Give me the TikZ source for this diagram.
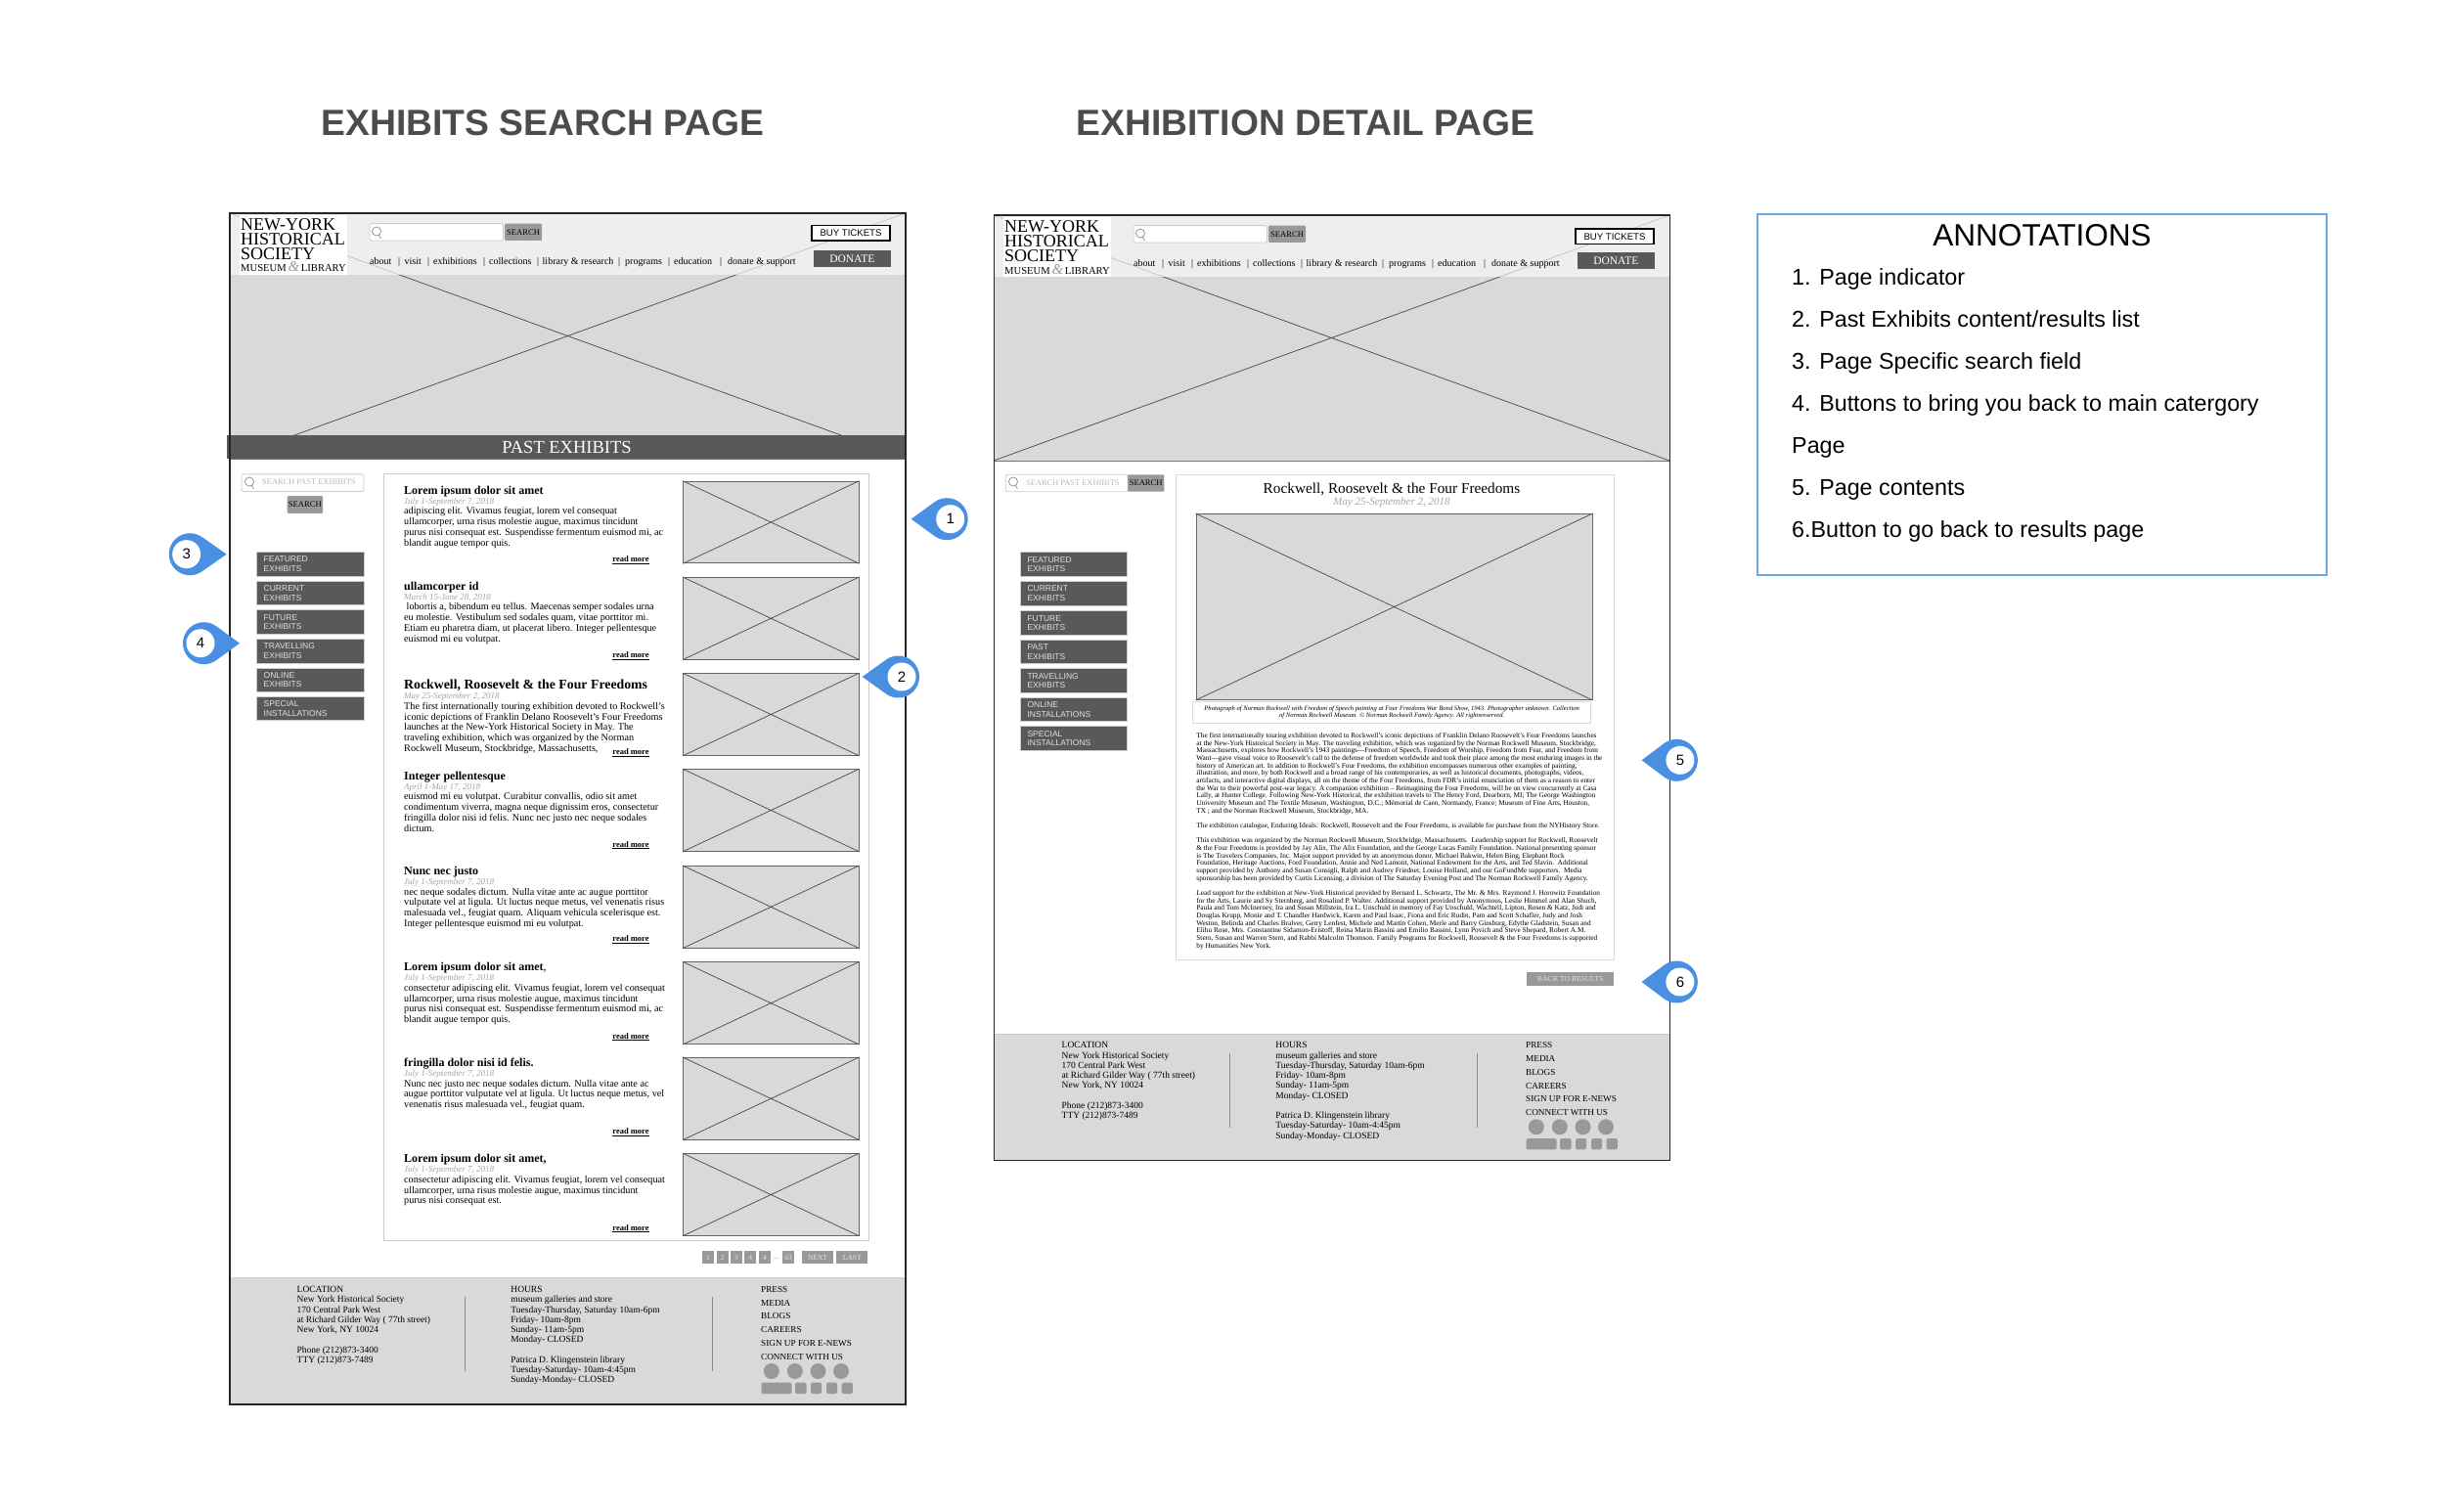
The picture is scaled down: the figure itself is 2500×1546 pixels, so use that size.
\documentclass[tikz,border=0pt]{standalone}
\usepackage{fontspec}
\usepackage{xcolor}
\setmainfont{Liberation Serif}
\setsansfont{Liberation Sans}
\definecolor{darkbtn}{HTML}{595959}
\definecolor{midbtn}{HTML}{999999}
\definecolor{hero}{HTML}{D9D9D9}
\definecolor{pinblue}{HTML}{4A90E2}
\definecolor{edge}{HTML}{CCCCCC}
\newcommand{\fsize}[2]{\fontsize{#1}{#2}\selectfont}
\tikzset{
  pagetitle/.style={font=\sffamily\bfseries\fsize{37.3}{40},text=black!70},
  logotext/.style={anchor=north west,inner sep=0pt,align=left,font=\fsize{18}{15}},
  navtext/.style={anchor=west,inner sep=0pt,text height=7pt,text depth=2pt,font=\fsize{10}{10}},
  field/.style={draw=edge,fill=white,rounded corners=1.5pt,line width=0.8pt},
  hint/.style={anchor=west,inner sep=0pt,text=black!28,font=\fsize{8.4}{9}},
  greybtn/.style={fill=midbtn,rounded corners=1pt,inner sep=0pt,font=\fsize{8.6}{9}},
  sidebtn/.style={fill=darkbtn,draw=edge,line width=0.7pt,minimum width=109.6pt,minimum height=24.5pt,
    inner sep=0pt,text width=95pt,align=left,text=black!12,font=\sffamily\fsize{8.5}{9.6}},
  item/.style={anchor=north west,inner sep=0pt,align=left,font=\fsize{10.2}{10.9}},
  itemhead/.style={anchor=base west,inner sep=0pt,font=\bfseries\fsize{12}{12}},
  itemdate/.style={anchor=base west,inner sep=0pt,text=black!35,font=\itshape\fsize{9}{9}},
  readmore/.style={anchor=center,inner sep=0pt,font=\bfseries\fsize{8.5}{9}},
  thumb/.style={fill=hero,draw=black!60,line width=0.9pt,minimum width=179.4pt,minimum height=83.6pt},
  xline/.style={draw=black!72,line width=0.7pt},
  pagebtn/.style={fill=midbtn,inner sep=0pt,text=black!10,minimum height=13pt,font=\fsize{7.5}{8}},
  foottext/.style={anchor=north west,inner sep=0pt,align=left,font=\fsize{9.5}{10.25}},
  footlink/.style={anchor=north west,inner sep=0pt,align=left,font=\fsize{9.2}{13.8}},
  pageframe/.style={draw=black!85,line width=1.5pt},
  pinlabel/.style={circle,fill=white,inner sep=0pt,minimum size=29pt,font=\sffamily\fsize{15}{15}},
  annot/.style={anchor=base west,inner sep=0pt,font=\sffamily\fsize{23.3}{24}},
  searchlens/.pic={\draw[draw=black!45,line width=0.7pt] (0,0) circle (4.5pt) (2.5,4) -- (4.5,7.5);}
}
\begin{document}
\begin{tikzpicture}[x=1pt,y=-1pt]
\useasboundingbox (0,0) rectangle (2500,1546);

\node[pagetitle] (title1) at (555,125.5) {EXHIBITS SEARCH PAGE};
\node[pagetitle] (title2) at (1335,125.5) {EXHIBITION DETAIL PAGE};

% header of both pages
\foreach \p/\dx/\dy/\by in {a/0/0/0,b/781/2/1.7} {
\begin{scope}[shift={(\dx,\dy)}]
\fill[hero] (235,218) rectangle (926,469);
\draw[draw=black!55,line width=0.7pt] (235,469) -- (926,469);
\draw[xline] (235,218) -- (926,469) (926,218) -- (235,469);
\fill[fill=black!3,opacity=0.7] (235,218) rectangle (926,281);
\fill[white] (244.5,220) rectangle (354.5,281.5);
\node[logotext] (\p logo) at (246,223.5) {NEW-YORK\\HISTORICAL\\SOCIETY};
\node[anchor=base west,inner sep=0pt,font=\fsize{10.6}{11}] (\p museum) at (246,278) {MUSEUM\,{\color{black!40}\itshape\fsize{15}{15}\&}\,LIBRARY};
\node[field,minimum width=136.5pt,minimum height=17.3pt,inner sep=0pt] (\p search) at (446.2,237.3) {};
\pic at (385,236.5) {searchlens};
\node[greybtn,minimum width=38pt,minimum height=17.3pt] (\p go) at (535,237.3) {SEARCH};
\foreach \x/\w in {378/about,407/|,413.5/visit,437/|,443/exhibitions,494/|,500/collections,549/|,554.5/library \& research,632/|,639/programs,683/|,689/education,736/|,744/donate \& support} {
  \node[navtext] at (\x,267.8) {\w};
}
\node[draw=black,fill=white,line width=1.2pt,minimum width=80pt,minimum height=15.8pt,inner sep=0pt,font=\sffamily\fsize{9.6}{10},yshift=-\by pt] (\p buy) at (870,238.2) {BUY TICKETS};
\node[fill=darkbtn,minimum width=79.5pt,minimum height=17.4pt,inner sep=0pt,text=white,font=\fsize{11.5}{12}] (\p donate) at (871.3,264.4) {DONATE};
\end{scope}
}

% footer of both pages
\foreach \p/\dx/\dy in {a/0/2,b/782/-247.7} {
\begin{scope}[shift={(\dx,\dy)}]
\fill[hero] (235,1304.7) rectangle (926,1434);
\draw[draw=edge,line width=0.8pt] (235,1304.7) -- (926,1304.7);
\node[foottext] (\p loc) at (303.5,1313) {LOCATION\\New York Historical Society\\170 Central Park West\\at Richard Gilder Way ( 77th street)\\New York, NY 10024\\[10.25pt]Phone (212)873-3400\\TTY (212)873-7489};
\node[foottext] (\p hours) at (522.2,1313) {HOURS\\museum galleries and store\\Tuesday-Thursday, Saturday 10am-6pm\\Friday- 10am-8pm\\Sunday- 11am-5pm\\Monday- CLOSED\\[10.25pt]Patrica D. Klingenstein library\\Tuesday-Saturday- 10am-4:45pm\\Sunday-Monday- CLOSED};
\node[footlink] (\p links) at (778,1313) {PRESS\\MEDIA\\BLOGS\\CAREERS\\SIGN UP FOR E-NEWS\\CONNECT WITH US};
\draw[draw=black!45,line width=0.8pt] (475,1324.3) -- (475,1400.3) (728,1324.3) -- (728,1400.3);
\foreach \x in {788.8,812.8,836.5,860} {
  \fill[midbtn] (\x,1400) circle (8pt);
}
\foreach \a/\b in {778.5/809.7,813/824.5,829/840,845/856,860.6/871.8} {
  \fill[midbtn,rounded corners=1.5pt] (\a,1411.7) rectangle (\b,1423);
}
\end{scope}
}

% exhibits search page
\node[fill=darkbtn,minimum width=695pt,minimum height=24pt,inner sep=0pt,text=white,font=\fsize{18.5}{19}] (band) at (579.5,457) {PAST EXHIBITS};
\begin{scope}[yshift=-1.5pt]
\node[field,minimum width=125pt,minimum height=17.7pt,inner sep=0pt] (fieldone) at (309.5,492.2) {};
\pic at (255,491) {searchlens};
\node[hint] (hintone) at (268,491) {SEARCH PAST EXHIBITS};
\node[greybtn,minimum width=36.5pt,minimum height=17.6pt] (goone) at (311.9,514.5) {SEARCH};
\foreach \i/\y/\a/\b in {1/575.3/FEATURED/EXHIBITS,2/604.8/CURRENT/EXHIBITS,3/634.5/FUTURE/EXHIBITS,4/664.2/TRAVELLING/EXHIBITS,5/693.7/ONLINE/EXHIBITS,6/723/SPECIAL/INSTALLATIONS} {
  \node[sidebtn] (side\i) at (317.2,\y) {\a\\\b};
}
\node[draw=edge,fill=white,line width=0.9pt,minimum width=495.7pt,minimum height=783.4pt,inner sep=0pt] (panel) at (640.2,875) {};
\foreach \i/\y in {1/532.5,2/630.8,3/729,4/827,5/925.8,6/1024.2,7/1121.8,8/1220} {
  \node[thumb] (thumb\i) at (788.3,\y) {};
  \draw[xline] (thumb\i.north west) -- (thumb\i.south east) (thumb\i.north east) -- (thumb\i.south west);
}

\node[itemhead] (head1) at (413,504) {Lorem ipsum dolor sit amet};
\node[itemdate] (date1) at (413,513.7) {July 1-September 7, 2018};
\node[item] (body1) at (413,517) {adipiscing elit. Vivamus feugiat, lorem vel consequat\\ullamcorper, urna risus molestie augue, maximus tincidunt\\purus nisi consequat est. Suspendisse fermentum euismod mi, ac\\blandit augue tempor quis.};
\node[readmore] (more1) at (645,571.3) {\underline{read more}};

\node[itemhead] (head2) at (413,602) {ullamcorper id};
\node[itemdate] (date2) at (413,611.7) {March 15-June 28, 2018};
\node[item] (body2) at (413,615) {\hspace{2.5pt}lobortis a, bibendum eu tellus. Maecenas semper sodales urna\\eu molestie. Vestibulum sed sodales quam, vitae porttitor mi.\\Etiam eu pharetra diam, ut placerat libero. Integer pellentesque\\euismod mi eu volutpat.};
\node[readmore] (more2) at (645,669.3) {\underline{read more}};

\node[itemhead,font=\bfseries\fsize{13.8}{14}] (head3) at (413,702.5) {Rockwell, Roosevelt \& the Four Freedoms};
\node[itemdate] (date3) at (413,713) {May 25-September 2, 2018};
\node[item] (body3) at (413,716.3) {The first internationally touring exhibition devoted to Rockwell's\\iconic depictions of Franklin Delano Roosevelt's Four Freedoms\\launches at the New-York Historical Society in May. The\\traveling exhibition, which was organized by the Norman\\Rockwell Museum, Stockbridge, Massachusetts,};
\node[readmore] (more3) at (645,768) {\underline{read more}};

\node[itemhead] (head4) at (413,796) {Integer pellentesque};
\node[itemdate] (date4) at (413,805.7) {April 1-May 17, 2018};
\node[item] (body4) at (413,809) {euismod mi eu volutpat. Curabitur convallis, odio sit amet\\condimentum viverra, magna neque dignissim eros, consectetur\\fringilla dolor nisi id felis. Nunc nec justo nec neque sodales\\dictum.};
\node[readmore] (more4) at (645,862.7) {\underline{read more}};

\node[itemhead] (head5) at (413,893.4) {Nunc nec justo};
\node[itemdate] (date5) at (413,903) {July 1-September 7, 2018};
\node[item] (body5) at (413,906.3) {nec neque sodales dictum. Nulla vitae ante ac augue porttitor\\vulputate vel at ligula. Ut luctus neque metus, vel venenatis risus\\malesuada vel., feugiat quam. Aliquam vehicula scelerisque est.\\Integer pellentesque euismod mi eu volutpat.};
\node[readmore] (more5) at (645,959.3) {\underline{read more}};

\node[itemhead] (head6) at (413,991.4) {Lorem ipsum dolor sit amet{\mdseries,}};
\node[itemdate] (date6) at (413,1001) {July 1-September 7, 2018};
\node[item] (body6) at (413,1004.3) {consectetur adipiscing elit. Vivamus feugiat, lorem vel consequat\\ullamcorper, urna risus molestie augue, maximus tincidunt\\purus nisi consequat est. Suspendisse fermentum euismod mi, ac\\blandit augue tempor quis.};
\node[readmore] (more6) at (645,1058.7) {\underline{read more}};

\node[itemhead] (head7) at (413,1089.4) {fringilla dolor nisi id felis.};
\node[itemdate] (date7) at (413,1099) {July 1-September 7, 2018};
\node[item] (body7) at (413,1102.3) {Nunc nec justo nec neque sodales dictum. Nulla vitae ante ac\\augue porttitor vulputate vel at ligula. Ut luctus neque metus, vel\\venenatis risus malesuada vel., feugiat quam.};
\node[readmore] (more7) at (645,1156) {\underline{read more}};

\node[itemhead] (head8) at (413,1187.4) {Lorem ipsum dolor sit amet,};
\node[itemdate] (date8) at (413,1197) {July 1-September 7, 2018};
\node[item] (body8) at (413,1200.3) {consectetur adipiscing elit. Vivamus feugiat, lorem vel consequat\\ullamcorper, urna risus molestie augue, maximus tincidunt\\purus nisi consequat est.};
\node[readmore] (more8) at (645,1254.7) {\underline{read more}};

\foreach \i/\x/\w/\t in {1/724/12/1,2/738.5/12/2,3/753/12/3,4/767.3/12/4,5/782/12/4,6/806/12/63,7/836/32/NEXT,8/871.2/32.4/LAST} {
  \node[pagebtn,minimum width=\w pt] (pg\i) at (\x,1284.2) {\t};
}
\node[inner sep=0pt,text=black!55,font=\fsize{7}{7}] (pgdots) at (793.7,1286) {...};
\end{scope}

% exhibition detail page
\node[field,minimum width=125pt,minimum height=17.4pt,inner sep=0pt] (fieldtwo) at (1090.7,494) {};
\pic at (1036,492.5) {searchlens};
\node[hint] (hinttwo) at (1049,493.3) {SEARCH PAST EXHIBITS};
\node[greybtn,minimum width=37.4pt,minimum height=17.4pt] (gotwo) at (1171.7,494) {SEARCH};
\foreach \i/\y/\a/\b in {1/577/FEATURED/EXHIBITS,2/606.7/CURRENT/EXHIBITS,3/637/FUTURE/EXHIBITS,4/666.5/PAST/EXHIBITS,5/696/TRAVELLING/EXHIBITS,6/725.5/ONLINE/INSTALLATIONS,7/755/SPECIAL/INSTALLATIONS} {
  \node[sidebtn] (sidetwo\i) at (1098,\y) {\a\\\b};
}
\node[draw=edge!70,fill=white,line width=0.9pt,minimum width=448.5pt,minimum height=495.7pt,inner sep=0pt] (paneltwo) at (1426.5,733.2) {};
\node[inner sep=0pt,font=\fsize{15.3}{15}] (headtwo) at (1423,500.5) {Rockwell, Roosevelt \& the Four Freedoms};
\node[inner sep=0pt,text=black!35,font=\itshape\fsize{11}{11}] (datetwo) at (1423,513.7) {May 25-September 2, 2018};
\node[thumb,minimum width=405pt,minimum height=190pt] (imgtwo) at (1425.5,620.5) {};
\draw[xline] (imgtwo.north west) -- (imgtwo.south east) (imgtwo.north east) -- (imgtwo.south west);
\node[draw=edge!70,fill=white,line width=0.8pt,minimum width=406.8pt,minimum height=22pt,inner sep=0pt,align=center,font=\itshape\fsize{6.6}{7.3}] (captwo) at (1423.2,728.3) {Photograph of Norman Rockwell with Freedom of Speech painting at Four Freedoms War Bond Show, 1943. Photographer unknown. Collection\\of Norman Rockwell Museum. © Norman Rockwell Family Agency. All rightsreserved.};
\node[anchor=north west,inner sep=0pt,align=left,font=\fsize{7.3}{7.67}] (bodytwo) at (1223.2,749) {The first internationally touring exhibition devoted to Rockwell's iconic depictions of Franklin Delano Roosevelt's Four Freedoms launches\\
at the New-York Historical Society in May. The traveling exhibition, which was organized by the Norman Rockwell Museum, Stockbridge,\\
Massachusetts, explores how Rockwell's 1943 paintings---Freedom of Speech, Freedom of Worship, Freedom from Fear, and Freedom from\\
Want---gave visual voice to Roosevelt's call to the defense of freedom worldwide and took their place among the most enduring images in the\\
history of American art. In addition to Rockwell's Four Freedoms, the exhibition encompasses numerous other examples of painting,\\
illustration, and more, by both Rockwell and a broad range of his contemporaries, as well as historical documents, photographs, videos,\\
artifacts, and interactive digital displays, all on the theme of the Four Freedoms, from FDR's initial enunciation of them as a reason to enter\\
the War to their powerful post-war legacy. A companion exhibition -- Reimagining the Four Freedoms, will be on view concurrently at Casa\\
Lally, at Hunter College. Following New-York Historical, the exhibition travels to The Henry Ford, Dearborn, MI; The George Washington\\
University Museum and The Textile Museum, Washington, D.C.; Mémorial de Caen, Normandy, France; Museum of Fine Arts, Houston,\\
TX ; and the Norman Rockwell Museum, Stockbridge, MA.\\[7.67pt]
The exhibition catalogue, Enduring Ideals: Rockwell, Roosevelt and the Four Freedoms, is available for purchase from the NYHistory Store.\\[7.67pt]
This exhibition was organized by the Norman Rockwell Museum, Stockbridge, Massachusetts.\ \ Leadership support for Rockwell, Roosevelt\\
\& the Four Freedoms is provided by Jay Alix, The Alix Foundation, and the George Lucas Family Foundation. National presenting sponsor\\
is The Travelers Companies, Inc. Major support provided by an anonymous donor, Michael Bakwin, Helen Bing, Elephant Rock\\
Foundation, Heritage Auctions, Ford Foundation, Annie and Ned Lamont, National Endowment for the Arts, and Ted Slavin.\ \ Additional\\
support provided by Anthony and Susan Consigli, Ralph and Audrey Friedner, Louise Holland, and our GoFundMe supporters.\ \ Media\\
sponsorship has been provided by Curtis Licensing, a division of The Saturday Evening Post and The Norman Rockwell Family Agency.\\[7.67pt]
Lead support for the exhibition at New-York Historical provided by Bernard L. Schwartz, The Mr. \& Mrs. Raymond J. Horowitz Foundation\\
for the Arts, Laurie and Sy Sternberg, and Rosalind P. Walter. Additional support provided by Anonymous, Leslie Himmel and Alan Shuch,\\
Paula and Tom McInerney, Ira and Susan Millstein, Ira L. Unschuld in memory of Fay Unschuld, Wachtell, Lipton, Rosen \& Katz, Judi and\\
Douglas Krupp, Monie and T. Chandler Hardwick, Karen and Paul Isaac, Fiona and Eric Rudin, Pam and Scott Schafler, Judy and Josh\\
Weston, Belinda and Charles Bralver, Gerry Lenfest, Michele and Martin Cohen, Merle and Barry Ginsburg, Edythe Gladstein, Susan and\\
Elihu Rose, Mrs. Constantine Sidamon-Eristoff, Reina Marin Bassini and Emilio Bassini, Lynn Povich and Steve Shepard, Robert A.M.\\
Stern, Susan and Warren Stern, and Rabbi Malcolm Thomson. Family Programs for Rockwell, Roosevelt \& the Four Freedoms is supported\\
by Humanities New York.};
\node[fill=midbtn,minimum width=89.5pt,minimum height=13.4pt,inner sep=0pt,text=black!12,font=\fsize{7.6}{8}] (backbtn) at (1605.7,1001) {BACK TO RESULTS};

% page outlines
\draw[pageframe] (235,218) rectangle (926,1436);
\draw[pageframe] (1016.5,220) rectangle (1707.5,1186.3);

% annotations
\node[draw=pinblue!80,line width=1.8pt,minimum width=582pt,minimum height=369pt,inner sep=0pt] (annotbox) at (2088,403.5) {};
\node[inner sep=0pt,font=\sffamily\fsize{31.6}{32}] (annothead) at (2088,241) {ANNOTATIONS};
\foreach \i/\y/\t in {1/291.5/1. Page indicator,2/334.5/2. Past Exhibits content\slash results list,3/377.5/3. Page Specific search field,4/420.5/4. Buttons to bring you back to main catergory,5/463.5/Page,6/506.5/5. Page contents,7/549.5/6.Button to go back to results page} {
  \node[annot] (note\i) at (1832,\y) {\t};
}

% numbered markers
\foreach \n/\x/\y/\tipx in {3/190.7/566.7/231.7,4/205/657.7/245} {
  \fill[pinblue] ([xshift=3.5pt]\x,\y) ++(54:21.5pt) arc (54:306:21.5pt) -- (\tipx,\y) -- cycle;
  \node[pinlabel] (mark\n) at (\x,\y) {\n};
}
\foreach \n/\x/\y/\tipx in {1/971.7/530.7/931.7,2/922/692/881.7,5/1717.9/777.3/1678.6,6/1717.9/1004/1678.5} {
  \fill[pinblue] ([xshift=-3.5pt]\x,\y) ++(126:21.5pt) arc (126:-126:21.5pt) -- (\tipx,\y) -- cycle;
  \node[pinlabel] (mark\n) at (\x,\y) {\n};
}

\end{tikzpicture}
\end{document}
